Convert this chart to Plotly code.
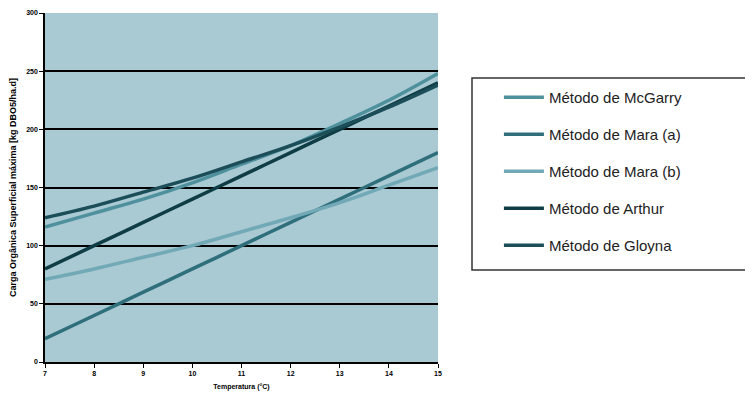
import plotly.graph_objects as go

temps = [7, 8, 9, 10, 11, 12, 13, 14, 15]

mcgarry = [116, 128, 140, 154, 170, 186, 205, 225, 248]
mara_a = [20, 40, 60, 80, 100, 120, 140, 160, 180]
mara_b = [71, 80, 90, 100, 112, 124, 137, 152, 167]
arthur = [80, 100, 120, 140, 160, 180, 200, 220, 240]
gloyna = [124, 134, 146, 158, 172, 186, 202, 219, 238]

series = [
    ("Método de McGarry", mcgarry, "#4f909d"),
    ("Método de Mara (a)", mara_a, "#2f6f7b"),
    ("Método de Mara (b)", mara_b, "#71a9b6"),
    ("Método de Arthur", arthur, "#0f3d46"),
    ("Método de Gloyna", gloyna, "#1c4e59"),
]

fig = go.Figure()
for i, (name, vals, color) in enumerate(series):
    fig.add_trace(go.Scatter(
        x=temps, y=vals, name=name, mode="lines",
        line=dict(color=color, width=3.5, shape="spline"),
        legendgroup=str(i)
    ))

tick_font = dict(family="Liberation Sans", size=7, color="black", weight="bold")

# page body adds ~8px offset, so margins are trimmed to land the plot at 45..438 / 13..362
fig.update_layout(
    width=753, height=406,
    margin=dict(l=37, r=323, t=5, b=52),
    paper_bgcolor="white",
    plot_bgcolor="#a9c9d3",
    font=dict(family="Liberation Sans", color="black"),
    legend=dict(
        x=1.155, y=0.805, xanchor="left", yanchor="top",
        font=dict(size=15, color="#222"),
        traceorder="grouped", tracegroupgap=14.5,
        bgcolor="rgba(0,0,0,0)", borderwidth=0,
        itemwidth=40
    ),
    shapes=[dict(
        type="rect", xref="paper", yref="paper",
        x0=(472 - 45) / 393, x1=(747 - 45) / 393,
        y0=(362 - 270) / 349, y1=(362 - 78) / 349,
        line=dict(color="#333", width=1.5), fillcolor="rgba(0,0,0,0)"
    )],
)

fig.update_xaxes(
    range=[7, 15], tickvals=temps, showgrid=False, zeroline=False,
    showline=True, linecolor="black", linewidth=1.5,
    ticks="outside", ticklen=4, tickcolor="black",
    tickfont=tick_font, automargin=False,
    title=dict(text="Temperatura (°C)", font=tick_font, standoff=8)
)
fig.update_yaxes(
    range=[0, 300], tickvals=[0, 50, 100, 150, 200, 250, 300], zeroline=False,
    showgrid=True, gridcolor="black", gridwidth=1.5,
    showline=True, linecolor="black", linewidth=1.5,
    ticks="outside", ticklen=4, tickcolor="black",
    tickfont=tick_font, automargin=False,
    title=dict(text="Carga Orgânica Superficial máxima [kg DBO5/ha.d]",
               font=dict(family="Liberation Sans", size=9, color="black", weight="bold"),
               standoff=22)
)

fig.write_html("out.html")
